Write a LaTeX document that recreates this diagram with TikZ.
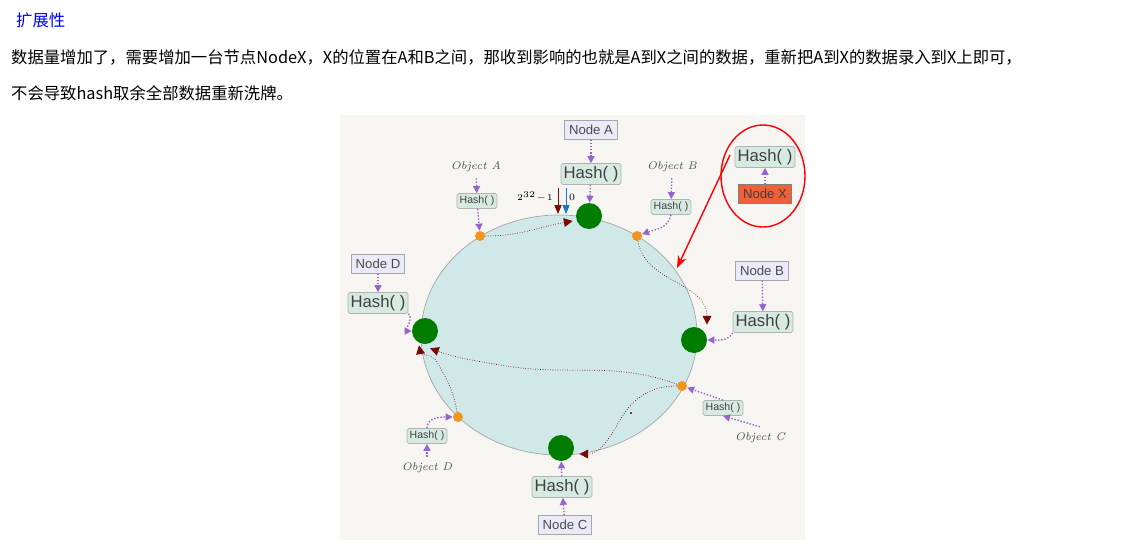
\documentclass[tikz,border=0pt]{standalone}
\usepackage{fontspec}
\setsansfont{Liberation Sans}
\newfontfamily\cjk{Noto Sans CJK SC}
\usetikzlibrary{positioning,shapes,calc,arrows.meta}
\definecolor{mypanel}{RGB}{247,245,242}
\definecolor{myring}{RGB}{208,232,232}
\definecolor{myhash}{RGB}{214,234,226}
\definecolor{mynode}{RGB}{234,234,248}
\definecolor{mypurple}{RGB}{150,100,205}
\definecolor{mygreen}{RGB}{0,125,0}
\definecolor{myorange}{RGB}{240,150,30}
\definecolor{mydark}{RGB}{120,10,10}
\definecolor{myxbox}{RGB}{240,95,55}

\begin{document}
\begin{tikzpicture}[x=0.02cm,y=-0.02cm,
  nodebox/.style={draw=gray!70,fill=mynode,font=\sffamily\fontsize{7.5}{8}\selectfont,text=black!70,inner sep=2.5pt},
  hashbig/.style={draw=gray!60,fill=myhash,rounded corners=1pt,font=\sffamily\fontsize{9.5}{10}\selectfont,text=black!75,inner sep=1.5pt},
  hashsmall/.style={draw=gray!60,fill=myhash,rounded corners=1pt,font=\sffamily\fontsize{6}{7}\selectfont,text=black!75,inner sep=1.5pt},
  objlabel/.style={font=\rmfamily\itshape\fontsize{6.3}{7}\selectfont,text=black!70},
  server/.style={circle,fill=mygreen,minimum width=0.52cm,inner sep=0pt},
  point/.style={circle,fill=myorange,minimum size=0.2cm,inner sep=0pt},
  feed/.style={-{Triangle[length=4pt,width=4pt]},mypurple,densely dotted,thick},
  walk/.style={-{Triangle[length=5pt,width=5pt]},mydark,densely dotted,thin}
]
\useasboundingbox (0,0) rectangle (1142,555);

% the text
\node[anchor=west,text=blue,font=\cjk\fontsize{9.3}{10}\selectfont] (title) at (10,20) {扩展性};
\node[anchor=west,font=\cjk\fontsize{9.3}{10}\selectfont] (line1) at (5,57)
  {数据量增加了，需要增加一台节点NodeX，X的位置在A和B之间，那收到影响的也就是A到X之间的数据，重新把A到X的数据录入到X上即可，};
\node[anchor=west,font=\cjk\fontsize{9.3}{10}\selectfont] (line2) at (5,93)
  {不会导致hash取余全部数据重新洗牌。};

% the panel and ring
\fill[mypanel] (340,115) rectangle (805,540);
\draw[gray!70,fill=myring] (559,335) ellipse [x radius=138,y radius=120];

% the servers
\node[server] (a) at (589,216) {};
\node[server] (b) at (694,340) {};
\node[server] (c) at (561,448) {};
\node[server] (d) at (425,331) {};

% the objects
\node[point] (oa) at (480,236) {};
\node[point] (ob) at (637,236) {};
\node[point] (oc) at (682,386) {};
\node[point] (od) at (458,417) {};

% node boxes and hashes
\node[nodebox] (na) at (591,130) {Node A};
\node[hashbig] (ha) at (591,174) {Hash( )};
\node[nodebox] (nb) at (762,271) {Node B};
\node[hashbig] (hb) at (763,322) {Hash( )};
\node[nodebox] (nc) at (565,525) {Node C};
\node[hashbig] (hc) at (562,487) {Hash( )};
\node[nodebox] (nd) at (378,264) {Node D};
\node[hashbig] (hd) at (378,303) {Hash( )};
\node[objlabel] (ta) at (476,167) {Object A};
\node[hashsmall] (sa) at (477,201) {Hash( )};
\node[objlabel] (tb) at (672,167) {Object B};
\node[hashsmall] (sb) at (671,207) {Hash( )};
\node[hashsmall] (sc) at (723,408) {Hash( )};
\node[objlabel] (tc) at (760,438) {Object C};
\node[hashsmall] (sd) at (427,436) {Hash( )};
\node[objlabel] (td) at (427,468) {Object D};

% node X
\node[hashbig] (hx) at (765,157) {Hash( )};
\node[nodebox,draw=gray,fill=myxbox,text=black!75] (nx) at (765,194) {Node X};
\draw[red,thick] (763,176) ellipse [x radius=42,y radius=51];
\coordinate (xin) at (677,268);
\draw[red,thick,-{Stealth[length=7pt]}] (730,155) -- (xin);

% feeding arrows
\draw[feed] (na) -- (ha);
\draw[feed] (ha) -- (a);
\draw[feed] (nb) -- (hb);
\draw[feed] (hb.south west) to[out=-120,in=0] (b);
\draw[feed] (nc) -- (hc);
\draw[feed] (hc) -- (c);
\draw[feed] (nd) -- (hd);
\draw[feed] (hd.south east) to[out=-30,in=180] (d);
\draw[feed] (ta) -- (sa);
\draw[feed] (sa) -- (oa);
\draw[feed] (tb) -- (sb);
\draw[feed] (sb.south) to[out=-100,in=20] (ob);
\draw[feed] (sc.north) -- (oc);
\draw[feed] (tc.north) -- (sc.south);
\draw[feed] (td) -- (sd);
\draw[feed] (sd.north) to[out=90,in=180] (od);
\draw[feed] (nx) -- (hx);

% the walks
\draw[walk] (oa) to[out=0,in=190] ($(a.west)+(-3,5)$);
\draw[walk] (ob) to[out=-80,in=90] ($(b.north)+(13,-2)$);
\draw[walk] (oc) to[out=160,in=-10] (500,365) to[out=170,in=-20] ($(d.south)+(5,4)$);
\draw[walk] (oc) to[out=180,in=60] (620,420) to[out=-120,in=0] ($(c.east)+(5,6)$);
\draw[walk] (od) to[out=100,in=-60] (437,362) to[out=120,in=-80] ($(d.south)+(-6,1)$);

% zero mark
\node[font=\rmfamily\fontsize{5.5}{6}\selectfont,anchor=east,inner sep=1pt] (lmax) at (555,197) {$2^{\scriptscriptstyle 32}\!-\!1$};
\node[font=\rmfamily\fontsize{5.5}{6}\selectfont] (lzero) at (572,197) {0};
\coordinate (zt) at (558,188);
\coordinate (zb) at (558,214);
\draw[mydark,-{Triangle[length=5pt,width=4pt]}] (zt) -- (zb);
\coordinate (yt) at (566,188);
\coordinate (yb) at (566,214);
\draw[cyan!60!blue,-{Triangle[length=5pt,width=4pt]}] (yt) -- (yb);

% the cross
\node[text=black!80,inner sep=0pt] (cross) at (631,413) {\tikz\draw[line width=1.3pt] (-0.15,-0.15) -- (0.15,0.15) (-0.15,0.15) -- (0.15,-0.15);};
\end{tikzpicture}
\end{document}
